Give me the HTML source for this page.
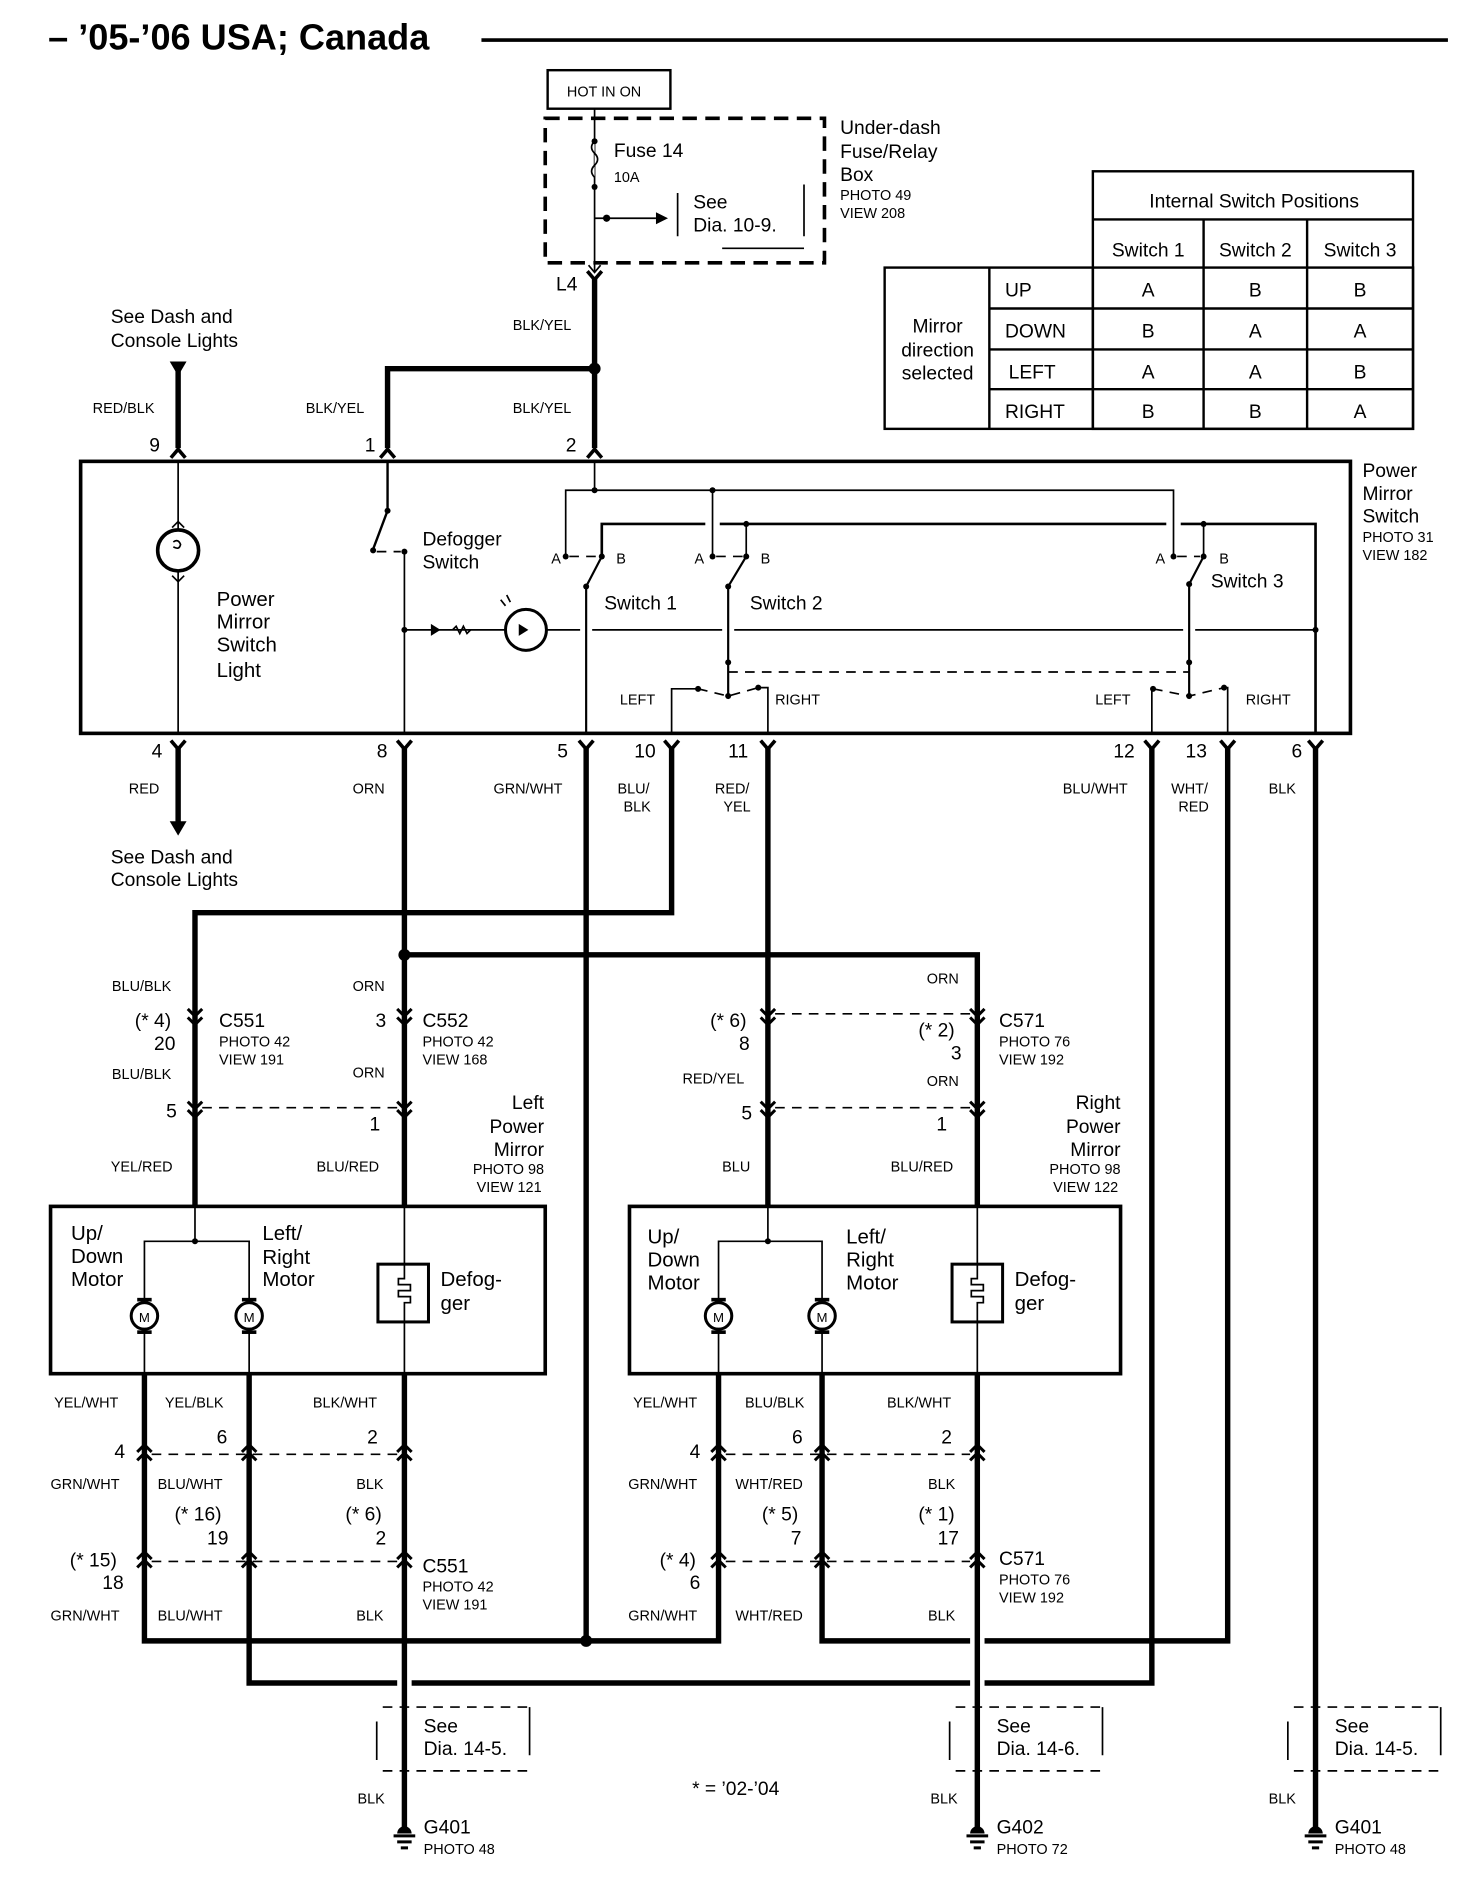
<!DOCTYPE html>
<html><head><meta charset="utf-8"><style>
html,body{margin:0;padding:0;background:#fff}
svg{display:block}
text{font-family:"Liberation Sans",Arial,sans-serif;fill:#000}
.s{font-size:12px}.m{font-size:16px}.b{font-size:17px}
.w{stroke:#000;stroke-width:4.5;fill:none}
.t{stroke:#000;stroke-width:1.4;fill:none}
.d{stroke:#000;stroke-width:1.4;fill:none;stroke-dasharray:8 6}
</style></head><body>
<svg width="1472" height="1888" viewBox="0 0 1223 1568" xmlns="http://www.w3.org/2000/svg">
<defs>
<path id="up" d="M-6,5 L0,-2 L6,5" stroke="#000" stroke-width="3" fill="none"/>
<path id="dn" d="M-6,-5 L0,2 L6,-5" stroke="#000" stroke-width="3" fill="none"/>
<path id="dv" d="M-6,-7 L0,-1 L6,-7 M-6,0 L0,6 L6,0" stroke="#000" stroke-width="2.5" fill="none"/>
<path id="uv" d="M-6,1 L0,-5 L6,1 M-6,8 L0,2 L6,8" stroke="#000" stroke-width="2.5" fill="none"/>
<g id="gnd"><path d="M-6,-4 a6,6 0 0 1 12,0 z" fill="#000"/><path d="M-9,-2 h18 M-6,3 h12 M-3,8 h6" stroke="#000" stroke-width="2.5"/></g>
</defs>

<text x="40" y="41" style="font-size:30px;font-weight:bold">– ’05-’06 USA; Canada</text>
<line x1="400" y1="33" x2="1203" y2="33" stroke="#000" stroke-width="3"/>

<rect x="455" y="58" width="102" height="32" fill="none" stroke="#000" stroke-width="2"/>
<text x="471" y="80" class="s">HOT IN ON</text>
<rect x="453" y="98" width="232" height="120" fill="none" stroke="#000" stroke-width="3" stroke-dasharray="12 7"/>
<line x1="494" y1="90" x2="494" y2="226" class="t"/>
<path d="M494,117 q-5,5 0,10 q5,5 0,10 q-5,5 0,10" fill="#fff" stroke="#000" stroke-width="1.4"/>
<circle cx="494" cy="117" r="2.5"/><circle cx="494" cy="155" r="2.5"/>
<circle cx="504" cy="181" r="3"/><line x1="494" y1="181" x2="545" y2="181" class="t"/><path d="M545,176 L555,181 L545,186z"/>
<path d="M563,160 V196 M600,206 H668 M668,153 V196" class="t"/>
<text x="576" y="173" class="m">See</text><text x="576" y="192" class="m">Dia.  10-9.</text>
<path d="M489,220 L494,226 L499,220" class="t"/>
<text x="510" y="130" class="m">Fuse 14</text><text x="510" y="151" class="s">10A</text>
<text x="698" y="111" class="m">Under-dash</text><text x="698" y="131" class="m">Fuse/Relay</text><text x="698" y="150" class="m">Box</text>
<text x="698" y="166" class="s">PHOTO 49</text><text x="698" y="181" class="s">VIEW 208</text>

<text x="462" y="241" class="m">L4</text>
<use href="#dn" x="494" y="230"/>
<line x1="494" y1="231" x2="494" y2="372" class="w"/>
<circle cx="494" cy="306" r="5"/>
<path d="M494,306 H322 V372" class="w"/>
<line x1="148" y1="302" x2="148" y2="372" class="w"/>
<path d="M141,300 H155 L148,312z"/>
<text x="92" y="268" class="m">See Dash and</text><text x="92" y="288" class="m">Console Lights</text>
<text x="77" y="343" class="s">RED/BLK</text><text x="254" y="343" class="s">BLK/YEL</text>
<text x="426" y="274" class="s">BLK/YEL</text><text x="426" y="343" class="s">BLK/YEL</text>
<text x="124" y="375" class="m">9</text><text x="303" y="375" class="m">1</text><text x="470" y="375" class="m">2</text>
<use href="#up" x="148" y="375"/><use href="#up" x="322" y="375"/><use href="#up" x="494" y="375"/>

<g stroke="#000" stroke-width="2" fill="none">
<rect x="908" y="142" width="266" height="214"/>
<rect x="735" y="222" width="439" height="134"/>
<path d="M908,182 H1174 M1000,182 V356 M1086,182 V356 M908,222 V356 M822,222 V356 M822,256 H1174 M822,290 H1174 M822,323 H1174"/>
</g>
<g class="m" text-anchor="middle">
<text x="1042" y="172">Internal Switch Positions</text>
<text x="954" y="213">Switch 1</text><text x="1043" y="213">Switch 2</text><text x="1130" y="213">Switch 3</text>
<text x="779" y="276">Mirror</text><text x="779" y="296">direction</text><text x="779" y="315">selected</text>
<text x="954" y="246">A</text><text x="1043" y="246">B</text><text x="1130" y="246">B</text>
<text x="954" y="280">B</text><text x="1043" y="280">A</text><text x="1130" y="280">A</text>
<text x="954" y="314">A</text><text x="1043" y="314">A</text><text x="1130" y="314">B</text>
<text x="954" y="347">B</text><text x="1043" y="347">B</text><text x="1130" y="347">A</text>
</g>
<g class="m"><text x="835" y="246">UP</text><text x="835" y="280">DOWN</text><text x="838" y="314">LEFT</text><text x="835" y="347">RIGHT</text></g>

<rect x="67" y="383" width="1055" height="226" fill="none" stroke="#000" stroke-width="3"/>
<text x="1132" y="396" class="m">Power</text><text x="1132" y="415" class="m">Mirror</text><text x="1132" y="434" class="m">Switch</text>
<text x="1132" y="450" class="s">PHOTO 31</text><text x="1132" y="465" class="s">VIEW 182</text>
<line x1="148" y1="383" x2="148" y2="609" class="t"/>
<circle cx="148" cy="457" r="17" fill="#fff" stroke="#000" stroke-width="3"/>
<path d="M144,450 q4,-3 6,2 q-1,5 -6,2" class="t"/>
<path d="M143,438 L148,433 L153,438 M143,478 L148,483 L153,478" class="t"/>
<text x="180" y="503" class="b">Power</text><text x="180" y="522" class="b">Mirror</text><text x="180" y="541" class="b">Switch</text><text x="180" y="562" class="b">Light</text>
<path d="M322,383 V424 L310,456" stroke="#000" stroke-width="2" fill="none"/>
<circle cx="322" cy="424" r="2.5"/><circle cx="310" cy="457" r="2.5"/><circle cx="336" cy="458" r="2.5"/>
<line x1="313" y1="458" x2="333" y2="458" class="d" stroke-dasharray="4 4"/>
<line x1="336" y1="458" x2="336" y2="609" class="t"/>
<text x="351" y="453" class="m">Defogger</text><text x="351" y="472" class="m">Switch</text>
<circle cx="336" cy="523" r="2.5"/>
<line x1="336" y1="523" x2="420" y2="523" class="t"/>
<path d="M358,518 L366,523 L358,528z M367,517 V529"/>
<path d="M376,523 l3,-3 l3,6 l3,-6 l3,6 l3,-3" class="t" fill="#fff"/>
<circle cx="437" cy="523" r="17" fill="#fff" stroke="#000" stroke-width="2.5"/>
<path d="M431,518 L439,523 L431,528z M440,517 V529"/>
<path d="M420,503 l-4,-5 M424,500 l-3,-6" class="t"/>
<path d="M454,523 H482 M492,523 H600 M610,523 H983 M993,523 H1093" class="t"/>
<circle cx="1093" cy="523" r="2.5"/>
<path d="M494,383 V407" class="t"/><circle cx="494" cy="407" r="2.5"/>
<path d="M470,462 V407 H975 V462" class="t"/><circle cx="592" cy="407" r="2.5"/>
<path d="M592,407 V462" class="t"/>
<path d="M500,462 V435 H586 M598,435 H969 M981,435 H1093 V609" stroke="#000" stroke-width="2.2" fill="none"/>
<path d="M620,435 V462 M1000,435 V462" class="t"/><circle cx="620" cy="435" r="2.5"/><circle cx="1000" cy="435" r="2.5"/>
<g>
<circle cx="470" cy="462" r="2.5"/><circle cx="500" cy="462" r="2.5"/><line x1="473" y1="462" x2="497" y2="462" class="d" stroke-dasharray="4 4"/>
<path d="M500,462 L487,487 V609" stroke="#000" stroke-width="1.8" fill="none"/><circle cx="487" cy="487" r="2.5"/>
<circle cx="592" cy="462" r="2.5"/><circle cx="620" cy="462" r="2.5"/><line x1="595" y1="462" x2="617" y2="462" class="d" stroke-dasharray="4 4"/>
<path d="M620,462 L605,487 V578" stroke="#000" stroke-width="1.8" fill="none"/><circle cx="605" cy="487" r="2.5"/>
<circle cx="975" cy="462" r="2.5"/><circle cx="1000" cy="462" r="2.5"/><line x1="978" y1="462" x2="997" y2="462" class="d" stroke-dasharray="4 4"/>
<path d="M1000,462 L988,485 V578" stroke="#000" stroke-width="1.8" fill="none"/><circle cx="988" cy="485" r="2.5"/>
</g>
<g class="s"><text x="458" y="468">A</text><text x="512" y="468">B</text><text x="577" y="468">A</text><text x="632" y="468">B</text><text x="960" y="468">A</text><text x="1013" y="468">B</text></g>
<text x="502" y="506" class="m">Switch 1</text><text x="623" y="506" class="m">Switch 2</text><text x="1006" y="488" class="m">Switch 3</text>
<circle cx="605" cy="550" r="2.5"/><circle cx="988" cy="550" r="2.5"/>
<line x1="605" y1="558" x2="988" y2="558" class="d" stroke-width="1.8"/>
<circle cx="580" cy="572" r="2.5"/><circle cx="630" cy="571" r="2.5"/><circle cx="605" cy="578" r="2.5"/>
<path d="M580,572 L605,578 L630,571" class="d" stroke-dasharray="4 4"/>
<path d="M580,572 H558 V609 M630,571 H638 V609" class="t"/>
<circle cx="958" cy="572" r="2.5"/><circle cx="1017" cy="571" r="2.5"/><circle cx="988" cy="578" r="2.5"/>
<path d="M958,572 L988,578 L1017,571" class="d" stroke-dasharray="4 4"/>
<path d="M958,572 H957 V609 M1017,571 H1020 V609" class="t"/>
<g class="s"><text x="515" y="585">LEFT</text><text x="644" y="585">RIGHT</text><text x="910" y="585">LEFT</text><text x="1035" y="585">RIGHT</text></g>

<g class="m"><text x="126" y="629">4</text><text x="313" y="629">8</text><text x="463" y="629">5</text><text x="527" y="629">10</text><text x="605" y="629">11</text><text x="925" y="629">12</text><text x="985" y="629">13</text><text x="1073" y="629">6</text></g>
<use href="#dn" x="148" y="620"/><use href="#dn" x="336" y="620"/><use href="#dn" x="487" y="620"/><use href="#dn" x="558" y="620"/><use href="#dn" x="638" y="620"/><use href="#dn" x="957" y="620"/><use href="#dn" x="1020" y="620"/><use href="#dn" x="1093" y="620"/>
<g class="s"><text x="107" y="659">RED</text><text x="293" y="659">ORN</text><text x="410" y="659">GRN/WHT</text><text x="513" y="659">BLU/</text><text x="518" y="674">BLK</text><text x="594" y="659">RED/</text><text x="601" y="674">YEL</text><text x="883" y="659">BLU/WHT</text><text x="973" y="659">WHT/</text><text x="979" y="674">RED</text><text x="1054" y="659">BLK</text></g>
<line x1="148" y1="621" x2="148" y2="684" class="w"/><path d="M141,682 H155 L148,694z"/>
<text x="92" y="717" class="m">See Dash and</text><text x="92" y="736" class="m">Console Lights</text>

<path d="M336,621 V1002" class="w"/>
<circle cx="336" cy="793" r="5"/>
<path d="M336,793 H812 V1002" class="w"/>
<path d="M487,621 V1363" class="w"/>
<path d="M558,621 V758 H162 V1002" class="w"/>
<path d="M638,621 V1002" class="w"/>
<path d="M957,621 V1398 H818 M806,1398 H342 M330,1398 H207 V1141" class="w"/>
<path d="M1020,621 V1363 H818 M806,1363 H683 V1141" class="w"/>
<path d="M120,1141 V1363 H597 V1141" class="w"/>
<circle cx="487" cy="1363" r="5"/>
<path d="M1093,621 V1522" class="w"/>
<path d="M336,1141 V1522 M812,1141 V1522" class="w"/>

<use href="#dv" x="162" y="845"/><use href="#dv" x="336" y="845"/>
<use href="#dv" x="162" y="922"/><use href="#dv" x="336" y="922"/>
<line x1="168" y1="920" x2="330" y2="920" class="d"/>
<g class="s"><text x="93" y="823">BLU/BLK</text><text x="293" y="823">ORN</text><text x="93" y="896">BLU/BLK</text><text x="293" y="895">ORN</text><text x="92" y="973">YEL/RED</text><text x="263" y="973">BLU/RED</text>
<text x="182" y="869">PHOTO 42</text><text x="182" y="884">VIEW 191</text><text x="351" y="869">PHOTO 42</text><text x="351" y="884">VIEW 168</text></g>
<g class="m"><text x="112" y="853">(* 4)</text><text x="128" y="872">20</text><text x="182" y="853">C551</text><text x="312" y="853">3</text><text x="351" y="853">C552</text><text x="138" y="928">5</text><text x="307" y="939">1</text></g>
<g text-anchor="end"><text x="452" y="921" class="m">Left</text><text x="452" y="941" class="m">Power</text><text x="452" y="960" class="m">Mirror</text><text x="452" y="975" class="s">PHOTO 98</text><text x="450" y="990" class="s">VIEW 121</text></g>

<use href="#dv" x="638" y="845"/><use href="#dv" x="812" y="845"/>
<use href="#dv" x="638" y="922"/><use href="#dv" x="812" y="922"/>
<line x1="644" y1="842" x2="806" y2="842" class="d"/>
<line x1="644" y1="920" x2="806" y2="920" class="d"/>
<g class="s"><text x="770" y="817">ORN</text><text x="567" y="900">RED/YEL</text><text x="770" y="902">ORN</text><text x="600" y="973">BLU</text><text x="740" y="973">BLU/RED</text>
<text x="830" y="869">PHOTO 76</text><text x="830" y="884">VIEW 192</text></g>
<g class="m"><text x="590" y="853">(* 6)</text><text x="614" y="872">8</text><text x="763" y="861">(* 2)</text><text x="790" y="880">3</text><text x="830" y="853">C571</text><text x="616" y="930">5</text><text x="778" y="939">1</text></g>
<g text-anchor="end"><text x="931" y="921" class="m">Right</text><text x="931" y="941" class="m">Power</text><text x="931" y="960" class="m">Mirror</text><text x="931" y="975" class="s">PHOTO 98</text><text x="929" y="990" class="s">VIEW 122</text></g>

<rect x="42" y="1002" width="411" height="139" fill="none" stroke="#000" stroke-width="3"/>
<path d="M162,1002 V1031 M120,1081 V1031 H207 V1081 M120,1105 V1141 M207,1105 V1141 M336,1002 V1141" class="t"/>
<circle cx="162" cy="1031" r="2.5"/>
<circle cx="120" cy="1093" r="11" fill="#fff" stroke="#000" stroke-width="2.5"/><text x="120" y="1098" text-anchor="middle" style="font-size:11px">M</text>
<rect x="114" y="1078" width="12" height="3"/><rect x="114" y="1105" width="12" height="3"/>
<circle cx="207" cy="1093" r="11" fill="#fff" stroke="#000" stroke-width="2.5"/><text x="207" y="1098" text-anchor="middle" style="font-size:11px">M</text>
<rect x="201" y="1078" width="12" height="3"/><rect x="201" y="1105" width="12" height="3"/>
<rect x="314" y="1050" width="42" height="48" fill="#fff" stroke="#000" stroke-width="2.5"/>
<path d="M336,1050 V1062 h-5 v5 h10 v5 h-10 v5 h10 v5 h-5 V1098" class="t" fill="none"/>
<g class="b"><text x="59" y="1030">Up/</text><text x="59" y="1049">Down</text><text x="59" y="1068">Motor</text><text x="218" y="1030">Left/</text><text x="218" y="1050">Right</text><text x="218" y="1068">Motor</text><text x="366" y="1068">Defog-</text><text x="366" y="1088">ger</text></g>

<rect x="523" y="1002" width="408" height="139" fill="none" stroke="#000" stroke-width="3"/>
<path d="M638,1002 V1031 M597,1081 V1031 H683 V1081 M597,1105 V1141 M683,1105 V1141 M812,1002 V1141" class="t"/>
<circle cx="638" cy="1031" r="2.5"/>
<circle cx="597" cy="1093" r="11" fill="#fff" stroke="#000" stroke-width="2.5"/><text x="597" y="1098" text-anchor="middle" style="font-size:11px">M</text>
<rect x="591" y="1078" width="12" height="3"/><rect x="591" y="1105" width="12" height="3"/>
<circle cx="683" cy="1093" r="11" fill="#fff" stroke="#000" stroke-width="2.5"/><text x="683" y="1098" text-anchor="middle" style="font-size:11px">M</text>
<rect x="677" y="1078" width="12" height="3"/><rect x="677" y="1105" width="12" height="3"/>
<rect x="791" y="1050" width="42" height="48" fill="#fff" stroke="#000" stroke-width="2.5"/>
<path d="M812,1050 V1062 h-5 v5 h10 v5 h-10 v5 h10 v5 h-5 V1098" class="t" fill="none"/>
<g class="b"><text x="538" y="1033">Up/</text><text x="538" y="1052">Down</text><text x="538" y="1071">Motor</text><text x="703" y="1033">Left/</text><text x="703" y="1052">Right</text><text x="703" y="1071">Motor</text><text x="843" y="1068">Defog-</text><text x="843" y="1088">ger</text></g>

<use href="#uv" x="120" y="1205"/><use href="#uv" x="207" y="1205"/><use href="#uv" x="336" y="1205"/>
<line x1="126" y1="1208" x2="330" y2="1208" class="d" stroke="#888"/>
<use href="#uv" x="120" y="1294"/><use href="#uv" x="207" y="1294"/><use href="#uv" x="336" y="1294"/>
<line x1="126" y1="1297" x2="330" y2="1297" class="d"/>
<g class="s"><text x="45" y="1169">YEL/WHT</text><text x="137" y="1169">YEL/BLK</text><text x="260" y="1169">BLK/WHT</text>
<text x="42" y="1237">GRN/WHT</text><text x="131" y="1237">BLU/WHT</text><text x="296" y="1237">BLK</text>
<text x="42" y="1346">GRN/WHT</text><text x="131" y="1346">BLU/WHT</text><text x="296" y="1346">BLK</text>
<text x="351" y="1322">PHOTO 42</text><text x="351" y="1337">VIEW 191</text></g>
<g class="m"><text x="95" y="1211">4</text><text x="180" y="1199">6</text><text x="305" y="1199">2</text>
<text x="145" y="1263">(* 16)</text><text x="172" y="1283">19</text><text x="287" y="1263">(* 6)</text><text x="312" y="1283">2</text>
<text x="58" y="1301">(* 15)</text><text x="85" y="1320">18</text><text x="351" y="1306">C551</text></g>

<use href="#uv" x="597" y="1205"/><use href="#uv" x="683" y="1205"/><use href="#uv" x="812" y="1205"/>
<line x1="603" y1="1208" x2="806" y2="1208" class="d" stroke="#888"/>
<use href="#uv" x="597" y="1294"/><use href="#uv" x="683" y="1294"/><use href="#uv" x="812" y="1294"/>
<line x1="603" y1="1297" x2="806" y2="1297" class="d"/>
<g class="s"><text x="526" y="1169">YEL/WHT</text><text x="619" y="1169">BLU/BLK</text><text x="737" y="1169">BLK/WHT</text>
<text x="522" y="1237">GRN/WHT</text><text x="611" y="1237">WHT/RED</text><text x="771" y="1237">BLK</text>
<text x="522" y="1346">GRN/WHT</text><text x="611" y="1346">WHT/RED</text><text x="771" y="1346">BLK</text>
<text x="830" y="1316">PHOTO 76</text><text x="830" y="1331">VIEW 192</text></g>
<g class="m"><text x="573" y="1211">4</text><text x="658" y="1199">6</text><text x="782" y="1199">2</text>
<text x="633" y="1263">(* 5)</text><text x="657" y="1283">7</text><text x="763" y="1263">(* 1)</text><text x="779" y="1283">17</text>
<text x="548" y="1301">(* 4)</text><text x="573" y="1320">6</text><text x="830" y="1300">C571</text></g>

<g>
<path d="M318,1418 H440 M318,1471 H440" class="d"/><path d="M313,1430 V1462 M440,1418 V1458" class="t"/>
<text x="352" y="1439" class="m">See</text><text x="352" y="1458" class="m">Dia.  14-5.</text>
<text x="297" y="1498" class="s">BLK</text><use href="#gnd" x="336" y="1527"/>
<text x="352" y="1523" class="m">G401</text><text x="352" y="1540" class="s">PHOTO 48</text>
</g>
<g>
<path d="M794,1418 H916 M794,1471 H916" class="d"/><path d="M789,1430 V1462 M916,1418 V1458" class="t"/>
<text x="828" y="1439" class="m">See</text><text x="828" y="1458" class="m">Dia.  14-6.</text>
<text x="773" y="1498" class="s">BLK</text><use href="#gnd" x="812" y="1527"/>
<text x="828" y="1523" class="m">G402</text><text x="828" y="1540" class="s">PHOTO 72</text>
</g>
<g>
<path d="M1075,1418 H1197 M1075,1471 H1197" class="d"/><path d="M1070,1430 V1462 M1197,1418 V1458" class="t"/>
<text x="1109" y="1439" class="m">See</text><text x="1109" y="1458" class="m">Dia.  14-5.</text>
<text x="1054" y="1498" class="s">BLK</text><use href="#gnd" x="1093" y="1527"/>
<text x="1109" y="1523" class="m">G401</text><text x="1109" y="1540" class="s">PHOTO 48</text>
</g>
<text x="575" y="1491" class="m">* = ’02-’04</text>
</svg>
</body></html>
